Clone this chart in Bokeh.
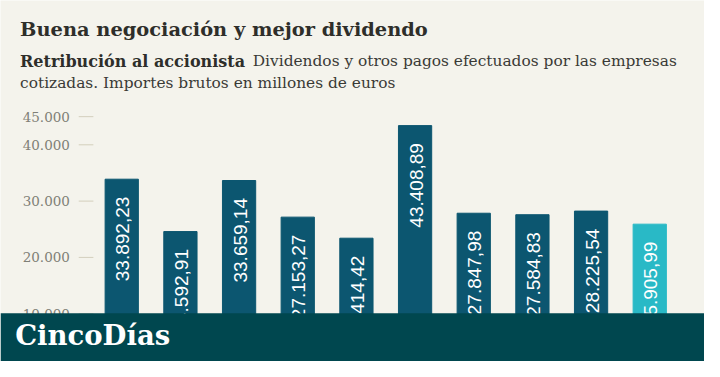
import math
from bokeh.plotting import figure
from bokeh.models import ColumnDataSource, Label, BoxAnnotation
from bokeh.core.properties import value
from bokeh.embed import file_html
from bokeh.resources import INLINE

# ---- data ----
values = [33892.23, 24592.91, 33659.14, 27153.27, 23414.42,
          43408.89, 27847.98, 27584.83, 28225.54, 25905.99]
highlight = [False] * 9 + [True]
tick_values = [10000, 20000, 30000, 40000, 45000]
tick_labels = ["10.000", "20.000", "30.000", "40.000", "45.000"]

title = "Buena negociación y mejor dividendo"
sub_bold = "Retribución al accionista"
sub_1 = "Dividendos y otros pagos efectuados por las empresas"
sub_2 = "cotizadas. Importes brutos en millones de euros"
brand = "CincoDías"

BG = "#f4f3ec"
BAR = "#0c5670"
BAR_HI = "#29b9c6"
BAND = "#00474f"
INK = "#2e2e2a"

W, H = 704, 361
# reference-pixel -> data helpers (the canvas spans the full 720x377 reference)
PX_PER_UNIT = 0.00588
def X(rx):
    return (rx - 124) / 60.0
def Y(ry):
    return 20000 + (268.3 - ry) / PX_PER_UNIT

def es_fmt(v):
    s = f"{v:,.2f}"
    return s.replace(",", "X").replace(".", ",").replace("X", ".")

p = figure(width=W, height=H, output_backend="svg", toolbar_location=None,
           x_range=(X(0), X(720)), y_range=(Y(377), Y(0)),
           min_border=0, background_fill_color=BG, border_fill_color=BG,
           outline_line_color=None)
p.axis.visible = False
p.grid.visible = False

xs = list(range(len(values)))
src = ColumnDataSource(dict(
    x=xs, top=values,
    color=[BAR_HI if h else BAR for h in highlight],
    label=[es_fmt(v) for v in values],
))
p.vbar(x="x", top="top", bottom=0, width=34 / 60.0, color="color", source=src)
p.text(x="x", y="top", text="label", source=src, angle=math.pi / 2,
       text_align="right", text_baseline="middle", y_offset=17.5, x_offset=1,
       text_color="white", text_font=value("Liberation Sans"),
       text_font_size="19px")

# y ticks
tsrc = ColumnDataSource(dict(y=tick_values, t=tick_labels))
p.text(x=X(71), y="y", text="t", source=tsrc, text_align="right",
       text_baseline="middle", text_color="#7f7f76",
       text_font=value("DejaVu Serif"), text_font_size="13.5px")
p.segment(x0=X(80), x1=X(95), y0="y", y1="y", source=tsrc,
          line_color="#d3cfbd", line_width=1)

def label(x, y, text, size, bold=False, color=INK, font="DejaVu Serif"):
    p.add_layout(Label(x=x, y=y, text=text, text_align="left",
                       text_baseline="middle", text_color=color,
                       text_font=font,
                       text_font_style="bold" if bold else "normal",
                       text_font_size=size))

# header texts
label(X(20), Y(30), title, "19.4px", bold=True)
label(X(20), Y(63.7), sub_bold, "16px", bold=True)
label(X(258), Y(63.7), sub_1, "15.4px", color="#3a3a36")
label(X(20), Y(85.7), sub_2, "15.4px", color="#3a3a36")

# bottom band + brand
p.add_layout(BoxAnnotation(top=Y(326.5), fill_color=BAND, fill_alpha=1,
                           line_alpha=0))
label(X(15), Y(349), brand, "27.5px", bold=True, color="white")

open("out.html", "w").write(file_html(p, INLINE))
